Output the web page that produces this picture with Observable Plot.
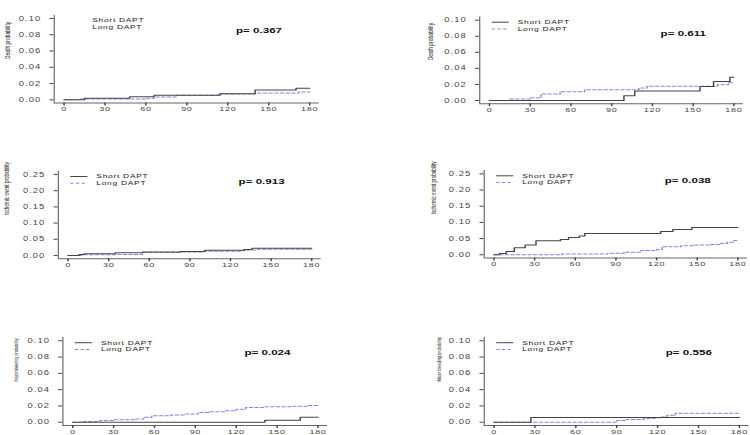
<!DOCTYPE html>
<html><head><meta charset="utf-8">
<script src="https://cdn.jsdelivr.net/npm/d3@7"></script>
<script src="https://cdn.jsdelivr.net/npm/@observablehq/plot@0.6"></script>
<style>
html,body{margin:0;padding:0;background:#fff;}
#wrap{position:relative;width:750px;height:435px;overflow:hidden;background:#fff;}
#wrap svg{position:absolute;transform-origin:0 0;}
</style></head><body><div id="wrap"></div>
<script>
// ---- data ----
const seriesNames = ["Short DAPT", "Long DAPT"];
const xTicks = [0, 30, 60, 90, 120, 150, 180];
const yTicksDeath = [0, 0.02, 0.04, 0.06, 0.08, 0.10];
const yTicksIschemic = [0, 0.05, 0.10, 0.15, 0.20, 0.25];
const yTicksBleeding = [0, 0.02, 0.04, 0.06, 0.08, 0.10];
const yLabels = ["Death probability", "Ischemic event probability", "Major bleeding probability"];
const pValues = ["0.367", "0.611", "0.913", "0.038", "0.024", "0.556"];

// [day, cumulative probability]
const deathLeftShort = [[0,0],[15,0.0018],[48,0.0038],[66,0.0056],[114,0.0076],[140,0.0121],[170,0.0143],[180,0.0143]];
const deathLeftLong  = [[0,0],[12,0.001],[60,0.002],[66,0.0035],[82,0.0055],[115,0.0073],[140,0.0083],[172,0.0095],[180,0.0095]];
const deathRightShort = [[0,0],[99,0.006],[107,0.0117],[155,0.0175],[165,0.0235],[177,0.029],[180,0.029]];
const deathRightLong  = [[0,0],[15,0.0017],[30,0.0035],[38,0.008],[52,0.011],[70,0.0133],[110,0.0155],[116,0.0178],[168,0.0195],[176,0.0225],[180,0.0225]];
const ischLeftShort = [[0,0],[8,0.003],[12,0.005],[35,0.0085],[55,0.0105],[83,0.0125],[101,0.016],[130,0.018],[136,0.022],[180,0.022]];
const ischLeftLong  = [[0,0],[10,0.002],[35,0.003],[55,0.0095],[83,0.011],[100,0.013],[128,0.015],[133,0.017],[140,0.019],[180,0.019]];
const ischRightShort = [[0,0],[4,0.004],[9,0.01],[15,0.022],[23,0.03],[31,0.043],[49,0.047],[55,0.053],[63,0.058],[67,0.066],[123,0.072],[132,0.078],[146,0.084],[180,0.084]];
const ischRightLong  = [[0,0],[50,0.002],[84,0.005],[96,0.008],[108,0.0135],[120,0.016],[124,0.025],[138,0.028],[147,0.03],[160,0.032],[167,0.035],[172,0.039],[177,0.044],[180,0.044]];
const bleedLeftShort = [[0,0],[141,0.0025],[167,0.006],[180,0.006]];
const bleedLeftLong  = [[0,0],[8,0.001],[20,0.002],[30,0.003],[45,0.004],[52,0.006],[58,0.008],[72,0.009],[82,0.010],[92,0.012],[100,0.013],[112,0.014],[120,0.016],[127,0.018],[140,0.019],[160,0.0195],[172,0.0205],[180,0.0205]];
const bleedRightShort = [[0,0],[27,0.0057],[180,0.0057]];
const bleedRightLong  = [[0,0],[90,0.002],[97,0.0035],[110,0.0045],[118,0.0055],[122,0.0065],[127,0.0085],[133,0.011],[180,0.011]];

// ---- layout (page pixels) ----
const S = 1.45; // horizontal stretch of the original figure
const panels = [
  {short: deathLeftShort, long: deathLeftLong, yTicks: yTicksDeath, yMax: 0.10, yLabel: yLabels[0], p: pValues[0], pY: 0.085,
   sx: 0, sy: 0, L: 53.5, R: 318.8, T: 14.7, B: 102.6, labOff: 46.8, labSize: 5, lines: false},
  {short: deathRightShort, long: deathRightLong, yTicks: yTicksDeath, yMax: 0.10, yLabel: yLabels[0], p: pValues[1], pY: 0.084,
   sx: 375, sy: 0, L: 479, R: 743, T: 16.5, B: 103.2, labOff: 49, labSize: 5, lines: true},
  {short: ischLeftShort, long: ischLeftLong, yTicks: yTicksIschemic, yMax: 0.25, yLabel: yLabels[1], p: pValues[2], pY: 0.2275,
   sx: 0, sy: 145, L: 57.6, R: 320.7, T: 170.8, B: 258.2, labOff: 51, labSize: 4.6, lines: true},
  {short: ischRightShort, long: ischRightLong, yTicks: yTicksIschemic, yMax: 0.25, yLabel: yLabels[1], p: pValues[3], pY: 0.231,
   sx: 375, sy: 145, L: 483.5, R: 747, T: 170.1, B: 257.5, labOff: 50.5, labSize: 4.6, lines: true},
  {short: bleedLeftShort, long: bleedLeftLong, yTicks: yTicksBleeding, yMax: 0.10, yLabel: yLabels[2], p: pValues[4], pY: 0.0856,
   sx: 0, sy: 290, L: 62.2, R: 327.1, T: 337, B: 425, labOff: 47, labSize: 3.8, lines: true},
  {short: bleedRightShort, long: bleedRightLong, yTicks: yTicksBleeding, yMax: 0.10, yLabel: yLabels[2], p: pValues[5], pY: 0.0856,
   sx: 375, sy: 290, L: 483.5, R: 748.5, T: 337, B: 425, labOff: 45, labSize: 3.9, lines: true}
];

const SHORT_COLOR = "#444444";
const LONG_COLOR = "#8585e2";
const DASH = "2.2,1.7";

function build(c) {
  const xmin = -7.2, xmax = 187.2;
  const ymin = -0.04 * c.yMax, ymax = 1.04 * c.yMax;
  const fw = c.R - c.L, fh = c.B - c.T;
  const xd = off => xmin + off / fw * (xmax - xmin);
  const yd = off => ymax - off / fh * (ymax - ymin);
  const toObj = a => a.map(([d, p]) => ({day: d, prob: p}));
  const legend = [
    {name: seriesNames[0], y: yd(5.2)},
    {name: seriesNames[1], y: yd(11.9)}
  ];
  const marks = [
    Plot.ruleX([xmin], {stroke: "#666", strokeWidth: 0.8}),
    Plot.ruleY([ymin], {stroke: "#666", strokeWidth: 1}),
    Plot.axisY({ticks: c.yTicks, tickSize: 4 / S, tickPadding: 6.2, tickFormat: d3.format(".2f"),
                fontSize: 6.5, color: "#444", label: null}),
    Plot.axisX({ticks: xTicks, tickSize: 3, tickPadding: 1, tickFormat: d => String(d),
                fontSize: 6.2, color: "#444", label: null}),
    Plot.line(toObj(c.long), {x: "day", y: "prob", curve: "step-after", stroke: LONG_COLOR,
                strokeWidth: 1, strokeDasharray: DASH}),
    Plot.line(toObj(c.short), {x: "day", y: "prob", curve: "step-after", stroke: SHORT_COLOR, strokeWidth: 1}),
    Plot.text([c.yLabel], {frameAnchor: "left", dx: -c.labOff / S, rotate: -90, fontSize: c.labSize, fill: "#222"}),
    Plot.text(legend, {x: () => xd(38), y: "y", text: "name", textAnchor: "start", fontSize: 5.8, fill: "#222"}),
    Plot.text([{t: `p= ${c.p}`, x: 126, y: c.pY}], {x: "x", y: "y", text: "t", textAnchor: "start",
                fontSize: 8, fontWeight: "bold", fill: "#111"})
  ];
  if (c.lines) {
    marks.push(Plot.link([legend[0]], {x1: () => xd(12), x2: () => xd(29), y1: "y", y2: "y",
                stroke: SHORT_COLOR, strokeWidth: 1}));
    marks.push(Plot.link([legend[1]], {x1: () => xd(12), x2: () => xd(29), y1: "y", y2: "y",
                stroke: LONG_COLOR, strokeWidth: 1, strokeDasharray: DASH}));
  }
  const svg = Plot.plot({
    width: 375 / S,
    height: 145,
    marginLeft: (c.L - c.sx) / S,
    marginRight: (c.sx + 375 - c.R) / S,
    marginTop: c.T - c.sy,
    marginBottom: c.sy + 145 - c.B,
    x: {domain: [xmin, xmax], label: null},
    y: {domain: [ymin, ymax], label: null},
    style: {fontFamily: "'Liberation Sans', Arial, sans-serif", overflow: "visible", background: "transparent"},
    marks
  });
  svg.style.left = c.sx + "px";
  svg.style.top = c.sy + "px";
  svg.style.transform = `scaleX(${S})`;
  svg.style.maxWidth = "none";
  const sel = d3.select(svg);
  sel.selectAll('g[aria-label="y-axis tick label"] text').attr("letter-spacing", 0.7);
  sel.selectAll('g[aria-label="x-axis tick label"] text').attr("letter-spacing", 0.5);
  sel.selectAll('g[aria-label="text"] text').filter(function() {
    return seriesNames.includes(this.textContent);
  }).attr("letter-spacing", 0.5);
  return svg;
}

const wrap = document.getElementById("wrap");
panels.forEach(c => wrap.appendChild(build(c)));
</script>
</body></html>
